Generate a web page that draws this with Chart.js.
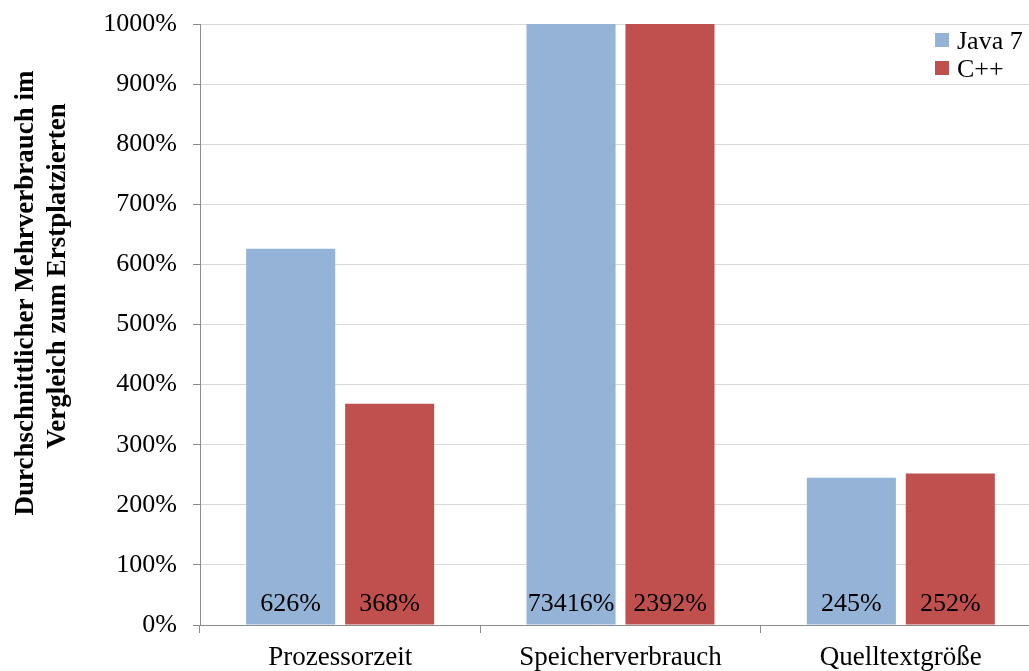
<!DOCTYPE html>
<html lang="de">
<head>
<meta charset="utf-8">
<title>Mehrverbrauch im Vergleich zum Erstplatzierten</title>
<script src="https://cdn.jsdelivr.net/npm/chart.js@4/dist/chart.umd.min.js"></script>
<style>
  html, body { margin: 0; padding: 0; background: #fff; overflow: hidden; }
  #wrap { width: 1045px; height: 671px; }
</style>
</head>
<body>
<div id="wrap"><canvas id="chart" width="1045" height="671"></canvas></div>
<script>
// Kategorien und Messwerte (Prozent gegenüber dem Erstplatzierten)
const categories = ['Prozessorzeit', 'Speicherverbrauch', 'Quelltextgröße'];
const seriesNames = ['Java 7', 'C++'];
const javaValues = [626, 73416, 245];
const cppValues = [368, 2392, 252];
const yTicks = [0, 100, 200, 300, 400, 500, 600, 700, 800, 900, 1000];
const yTitleLines = ['Durchschnittlicher Mehrverbrauch im', 'Vergleich zum Erstplatzierten'];

const SERIF = '"Liberation Serif", "Times New Roman", "DejaVu Serif", serif';
const colors = ['#95b3d7', '#c0504d'];

// Wertbeschriftung unten in jedem Balken
const barValueLabels = {
  id: 'barValueLabels',
  afterDatasetsDraw(chart) {
    const ctx = chart.ctx;
    ctx.save();
    ctx.font = '26px ' + SERIF;
    ctx.fillStyle = '#000';
    ctx.textAlign = 'center';
    ctx.textBaseline = 'alphabetic';
    chart.data.datasets.forEach((ds, di) => {
      const meta = chart.getDatasetMeta(di);
      meta.data.forEach((bar, i) => {
        ctx.fillText(ds.data[i] + '%', bar.x, bar.base - 14);
      });
    });
    ctx.restore();
  }
};

// Legende oben rechts im Diagrammbereich
const cornerLegend = {
  id: 'cornerLegend',
  afterDraw(chart) {
    const ctx = chart.ctx;
    ctx.save();
    ctx.font = '26px ' + SERIF;
    ctx.textBaseline = 'alphabetic';
    ctx.textAlign = 'left';
    chart.data.datasets.forEach((ds, i) => {
      const y = 33 + i * 28;
      ctx.fillStyle = ds.backgroundColor;
      ctx.fillRect(935, y, 14, 14);
      ctx.fillStyle = '#000';
      ctx.fillText(ds.label, 957, y + 16);
    });
    ctx.restore();
  }
};

// Zweizeiliger, fetter Titel der Y-Achse
const yAxisTitle = {
  id: 'yAxisTitle',
  afterDraw(chart) {
    const ctx = chart.ctx;
    const spots = [[33, 293], [65, 276]];
    ctx.save();
    ctx.font = 'bold 27px ' + SERIF;
    ctx.fillStyle = '#000';
    ctx.textAlign = 'center';
    ctx.textBaseline = 'alphabetic';
    yTitleLines.forEach((line, i) => {
      ctx.save();
      ctx.translate(spots[i][0], spots[i][1]);
      ctx.rotate(-Math.PI / 2);
      ctx.fillText(line, 0, 0);
      ctx.restore();
    });
    ctx.restore();
  }
};

new Chart(document.getElementById('chart'), {
  type: 'bar',
  data: {
    labels: categories,
    datasets: [
      { label: seriesNames[0], data: javaValues, backgroundColor: colors[0], borderWidth: 0 },
      { label: seriesNames[1], data: cppValues, backgroundColor: colors[1], borderWidth: 0 }
    ]
  },
  options: {
    responsive: false,
    animation: false,
    devicePixelRatio: 1,
    layout: { padding: { top: 24, right: 4, left: 0, bottom: 0 } },
    datasets: { bar: { categoryPercentage: 0.706, barPercentage: 0.9 } },
    plugins: {
      legend: { display: false },
      tooltip: { enabled: false },
      title: { display: false }
    },
    scales: {
      x: {
        offset: true,
        grid: {
          offset: true,
          drawOnChartArea: false,
          drawTicks: true,
          tickLength: 8,
          tickColor: '#8c8c8c',
          color: '#8c8c8c'
        },
        border: { display: true, color: '#8c8c8c', width: 1 },
        ticks: {
          font: { family: SERIF, size: 27 },
          color: '#000',
          padding: 9,
          maxRotation: 0
        },
        afterFit(scale) {
          scale.height = 46;
          scale.paddingLeft = 0;
          scale.paddingRight = 0;
        }
      },
      y: {
        min: 0,
        max: 1000,
        afterBuildTicks(scale) { scale.ticks = yTicks.map(v => ({ value: v })); },
        grid: {
          color: '#d9d9d9',
          tickColor: '#8c8c8c',
          tickLength: 7,
          drawTicks: true
        },
        border: { display: true, color: '#8c8c8c', width: 1 },
        ticks: {
          font: { family: SERIF, size: 26 },
          color: '#000',
          padding: 16,
          callback: v => v + '%'
        },
        afterFit(scale) {
          scale.width = 200;
          scale.paddingTop = 0;
          scale.paddingBottom = 0;
        }
      }
    }
  },
  plugins: [barValueLabels, cornerLegend, yAxisTitle]
});
</script>
</body>
</html>
